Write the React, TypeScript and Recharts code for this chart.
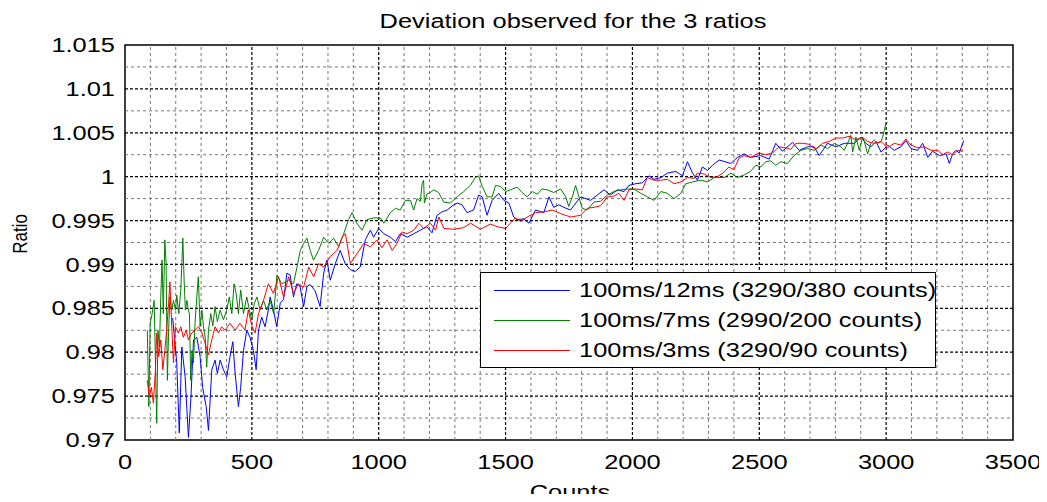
import React from "react";
import { LineChart, Line, XAxis, YAxis, ReferenceLine, ReferenceArea } from "recharts";

// counts / ratio readings for each exposure pair
const blueCounts = [188, 204, 214, 224, 237, 250, 260, 270, 283, 296, 306, 320, 329, 342, 355, 364, 375, 388, 401, 414, 425, 434, 447, 456, 467, 480, 493, 506, 517, 526, 539, 552, 565, 572, 585, 598, 612, 625, 638, 651, 664, 677, 690, 704, 717, 730, 749, 769, 783, 796, 809, 829, 848, 868, 888, 907, 927, 947, 967, 980, 1000, 1020, 1046, 1066, 1085, 1112, 1138, 1164, 1190, 1210, 1230, 1250, 1270, 1296, 1309, 1328, 1348, 1374, 1394, 1408, 1427, 1447, 1473, 1493, 1513, 1532, 1546, 1572, 1592, 1618, 1651, 1671, 1690, 1710, 1730, 1756, 1796, 1835, 1861, 1888, 1914, 1940, 1967, 1986, 2013, 2039, 2066, 2085, 2112, 2138, 2171, 2197, 2217, 2237, 2256, 2276, 2296, 2316, 2342, 2365, 2388, 2414, 2440, 2466, 2506, 2539, 2565, 2591, 2631, 2657, 2690, 2716, 2736, 2769, 2802, 2835, 2874, 2901, 2920, 2940, 2960, 2980, 3006, 3032, 3058, 3078, 3098, 3124, 3144, 3164, 3183, 3210, 3236, 3249, 3262, 3275, 3288, 3306];
const blueRatios = [0.9839, 0.9788, 0.9708, 0.9806, 0.9772, 0.9703, 0.9749, 0.9814, 0.9817, 0.9795, 0.976, 0.9738, 0.9711, 0.978, 0.9791, 0.9776, 0.9791, 0.978, 0.9772, 0.9795, 0.9812, 0.9776, 0.9738, 0.976, 0.9802, 0.9825, 0.9817, 0.9802, 0.978, 0.9825, 0.984, 0.9829, 0.9848, 0.9863, 0.9848, 0.9829, 0.9856, 0.986, 0.989, 0.9888, 0.9863, 0.9878, 0.9875, 0.9852, 0.9875, 0.9877, 0.987, 0.9852, 0.989, 0.9905, 0.9882, 0.9901, 0.9916, 0.9901, 0.9894, 0.9892, 0.9897, 0.9928, 0.9939, 0.9931, 0.9941, 0.9935, 0.9931, 0.9926, 0.9935, 0.9931, 0.9935, 0.9939, 0.9943, 0.9936, 0.9956, 0.996, 0.9962, 0.9968, 0.997, 0.9968, 0.9959, 0.9962, 0.9979, 0.9977, 0.9956, 0.9973, 0.9981, 0.9973, 0.997, 0.9954, 0.9951, 0.9952, 0.9947, 0.9962, 0.9959, 0.9977, 0.9965, 0.9968, 0.9965, 0.9962, 0.9977, 0.9973, 0.9979, 0.9985, 0.9979, 0.9985, 0.9983, 0.999, 0.9992, 0.9993, 1.0001, 0.9997, 0.9999, 1.0004, 1.0006, 1.0001, 1.0017, 1.0004, 0.9996, 1.0011, 1.0007, 1.0013, 1.0019, 1.0017, 1.0015, 1.0022, 1.0026, 1.0022, 1.0024, 1.002, 1.0038, 1.0029, 1.0039, 1.003, 1.0034, 1.0034, 1.0024, 1.0038, 1.0034, 1.0038, 1.0038, 1.0045, 1.0038, 1.0034, 1.004, 1.0028, 1.0036, 1.003, 1.0034, 1.0041, 1.0032, 1.003, 1.0038, 1.0022, 1.0029, 1.0024, 1.0026, 1.0015, 1.0026, 1.003, 1.0027, 1.0041];

const greenCounts = [88, 94, 99, 107, 115, 120, 125, 130, 136, 141, 146, 151, 157, 162, 167, 172, 177, 184, 191, 199, 204, 212, 220, 228, 233, 238, 244, 250, 254, 259, 264, 270, 276, 283, 289, 296, 303, 309, 316, 322, 329, 338, 346, 355, 364, 375, 388, 401, 411, 421, 430, 438, 447, 456, 467, 480, 490, 500, 509, 520, 533, 546, 559, 572, 586, 599, 618, 645, 664, 678, 691, 704, 717, 730, 743, 763, 783, 803, 822, 842, 862, 881, 895, 914, 934, 954, 980, 1007, 1020, 1046, 1066, 1085, 1105, 1125, 1138, 1151, 1164, 1171, 1177, 1180, 1190, 1204, 1217, 1236, 1256, 1282, 1309, 1335, 1361, 1381, 1394, 1408, 1427, 1447, 1460, 1480, 1500, 1519, 1546, 1565, 1585, 1605, 1625, 1644, 1664, 1690, 1717, 1737, 1749, 1763, 1776, 1789, 1802, 1822, 1848, 1875, 1901, 1927, 1953, 1980, 2006, 2033, 2059, 2085, 2112, 2138, 2164, 2191, 2210, 2237, 2270, 2296, 2322, 2349, 2361, 2388, 2414, 2440, 2466, 2486, 2506, 2525, 2545, 2565, 2585, 2611, 2637, 2664, 2690, 2716, 2743, 2769, 2796, 2822, 2835, 2848, 2861, 2868, 2881, 2894, 2907, 2914, 2927, 2940, 2953, 2966, 2980, 2986, 2993, 2999, 3006];
const greenRatios = [0.9825, 0.9738, 0.9833, 0.9844, 0.9859, 0.9788, 0.9719, 0.9825, 0.9806, 0.9863, 0.9905, 0.9844, 0.9928, 0.9901, 0.9768, 0.9825, 0.9863, 0.9848, 0.9859, 0.9848, 0.9865, 0.9844, 0.9871, 0.993, 0.9882, 0.9848, 0.9859, 0.9848, 0.9844, 0.9768, 0.9802, 0.9788, 0.9833, 0.9863, 0.9886, 0.9829, 0.9848, 0.983, 0.9817, 0.9783, 0.9825, 0.9844, 0.983, 0.9852, 0.9835, 0.9848, 0.9837, 0.9848, 0.9863, 0.9844, 0.9878, 0.9867, 0.9844, 0.9871, 0.9844, 0.9863, 0.9848, 0.9837, 0.9855, 0.9863, 0.9848, 0.9859, 0.9848, 0.9859, 0.9844, 0.9888, 0.9878, 0.9882, 0.9878, 0.9897, 0.9916, 0.9924, 0.993, 0.9916, 0.9905, 0.9916, 0.9931, 0.9924, 0.993, 0.992, 0.9935, 0.9951, 0.9959, 0.9947, 0.9939, 0.9951, 0.9953, 0.9953, 0.9947, 0.9959, 0.9964, 0.9962, 0.9973, 0.9973, 0.9962, 0.9975, 0.9972, 0.9992, 0.9996, 0.997, 0.998, 0.9982, 0.9985, 0.9982, 0.9971, 0.997, 0.9977, 0.9983, 0.999, 0.9999, 1.0001, 0.9989, 0.9977, 0.9977, 0.999, 0.9989, 0.9983, 0.9985, 0.9988, 0.9982, 0.9977, 0.9983, 0.998, 0.9986, 0.9985, 0.9982, 0.9986, 0.9977, 0.9966, 0.9977, 0.999, 0.9977, 0.9964, 0.9962, 0.9971, 0.9972, 0.9979, 0.9983, 0.9985, 0.9986, 0.9986, 0.9981, 0.9977, 0.9973, 0.9983, 0.9981, 0.9975, 0.9981, 0.9992, 0.9994, 0.9996, 0.9994, 0.9999, 0.9999, 0.9999, 1.0004, 0.9999, 1.0002, 1.0006, 1.0013, 1.0011, 1.0017, 1.0018, 1.0013, 1.0017, 1.0015, 1.0024, 1.003, 1.0032, 1.003, 1.0036, 1.0032, 1.0038, 1.0034, 1.003, 1.0038, 1.0047, 1.0028, 1.0045, 1.003, 1.0045, 1.004, 1.0026, 1.0038, 1.0042, 1.0038, 1.004, 1.0045, 1.0053, 1.0061, 1.0062];

const redCounts = [88, 96, 104, 112, 120, 125, 133, 141, 149, 157, 164, 172, 177, 185, 191, 199, 210, 220, 230, 241, 250, 263, 276, 290, 303, 316, 329, 342, 355, 368, 381, 394, 414, 434, 453, 473, 486, 500, 513, 526, 546, 565, 585, 605, 625, 645, 664, 684, 704, 724, 744, 763, 783, 809, 836, 856, 869, 888, 914, 941, 967, 993, 1013, 1033, 1053, 1072, 1092, 1112, 1138, 1158, 1177, 1204, 1224, 1237, 1257, 1296, 1335, 1362, 1401, 1440, 1467, 1500, 1519, 1539, 1559, 1585, 1618, 1651, 1684, 1717, 1756, 1796, 1822, 1848, 1875, 1901, 1920, 1947, 1967, 1986, 2013, 2039, 2059, 2085, 2112, 2138, 2164, 2191, 2217, 2243, 2256, 2283, 2309, 2335, 2361, 2380, 2400, 2420, 2440, 2466, 2499, 2525, 2552, 2578, 2604, 2624, 2644, 2670, 2696, 2723, 2749, 2775, 2802, 2828, 2854, 2880, 2906, 2927, 2953, 2980, 3006, 3032, 3058, 3078, 3098, 3124, 3151, 3177, 3203, 3223, 3242, 3262, 3282, 3302];
const redRatios = [0.9768, 0.9749, 0.976, 0.9742, 0.978, 0.9822, 0.9795, 0.9814, 0.978, 0.9802, 0.9825, 0.9856, 0.988, 0.9825, 0.9788, 0.9829, 0.9822, 0.9829, 0.9817, 0.9825, 0.9814, 0.9822, 0.9825, 0.9829, 0.9822, 0.981, 0.9797, 0.9814, 0.9829, 0.9822, 0.9829, 0.9825, 0.9833, 0.9825, 0.9833, 0.9825, 0.9848, 0.983, 0.9822, 0.9844, 0.9859, 0.9878, 0.9867, 0.9886, 0.9863, 0.9886, 0.9867, 0.9878, 0.9874, 0.9897, 0.9886, 0.9901, 0.9897, 0.9909, 0.9916, 0.9931, 0.9935, 0.9901, 0.9912, 0.9924, 0.992, 0.9928, 0.9919, 0.9928, 0.9916, 0.9924, 0.9937, 0.9935, 0.9939, 0.9947, 0.9941, 0.9947, 0.9939, 0.9954, 0.9941, 0.994, 0.9942, 0.9947, 0.994, 0.9946, 0.9943, 0.9941, 0.9947, 0.9953, 0.9949, 0.9954, 0.9959, 0.996, 0.9962, 0.9958, 0.9954, 0.9956, 0.9964, 0.9965, 0.9967, 0.9977, 0.9977, 0.9981, 0.9973, 0.9985, 0.9986, 0.9985, 0.9999, 0.9996, 0.9996, 0.9997, 0.9992, 0.9994, 0.9999, 0.9998, 1.0004, 1.0003, 0.9999, 1.0, 1.0005, 1.0011, 1.0008, 1.0021, 1.0024, 1.0022, 1.0027, 1.0025, 1.0027, 1.0034, 1.0033, 1.0031, 1.0038, 1.0038, 1.0037, 1.0031, 1.0038, 1.004, 1.0044, 1.0044, 1.0046, 1.0042, 1.0045, 1.004, 1.0038, 1.004, 1.0033, 1.0038, 1.0036, 1.0043, 1.0036, 1.0033, 1.0034, 1.003, 1.003, 1.0025, 1.0028, 1.0025, 1.003, 1.0029];

const xTicks = [0, 500, 1000, 1500, 2000, 2500, 3000, 3500];
const yTicks = [0.97, 0.975, 0.98, 0.985, 0.99, 0.995, 1.0, 1.005, 1.01, 1.015];
const xMinor = [100, 200, 300, 400, 600, 700, 800, 900, 1100, 1200, 1300, 1400, 1600, 1700, 1800, 1900, 2100, 2200, 2300, 2400, 2600, 2700, 2800, 2900, 3100, 3200, 3300, 3400];
const yMinor = [0.9725, 0.9775, 0.9825, 0.9875, 0.9925, 0.9975, 1.0025, 1.0075, 1.0125];

const series = [
  { name: "100ms/12ms (3290/380 counts)", color: "#0000ff", counts: blueCounts, ratios: blueRatios },
  { name: "100ms/7ms (2990/200 counts)", color: "#008000", counts: greenCounts, ratios: greenRatios },
  { name: "100ms/3ms (3290/90 counts)", color: "#ff0000", counts: redCounts, ratios: redRatios },
];

const FONT = '"Liberation Sans", Arial, sans-serif';
const STRETCH = 1.27;

function XTick({ x, y, payload }: any) {
  return (
    <text transform={`translate(${x},${y}) scale(${STRETCH},1)`} textAnchor="middle" dy="0.71em"
      fontFamily={FONT} fontSize={20} fill="#000">
      {payload.value}
    </text>
  );
}

function YTick({ x, y, payload }: any) {
  return (
    <text transform={`translate(${x},${y}) scale(${STRETCH},1)`} textAnchor="end" dy="0.355em"
      fontFamily={FONT} fontSize={20} fill="#000">
      {String(Number(payload.value.toFixed(4)))}
    </text>
  );
}

const textStyle: React.CSSProperties = {
  position: "absolute",
  fontFamily: FONT,
  fontSize: 20,
  lineHeight: "20px",
  whiteSpace: "nowrap",
  color: "#000",
};

export default function App() {
  const lines = series.map((s) => ({
    ...s,
    data: s.counts.map((c, i) => ({ count: c, ratio: s.ratios[i] })),
  }));

  return (
    <div
      style={{
        position: "relative",
        width: 1039,
        height: 494,
        marginBottom: -8,
        marginRight: -8,
        overflow: "hidden",
      }}
    >
      <LineChart width={1039} height={494} margin={{ top: 37, right: 34, bottom: 22, left: 57 }}>
        <XAxis
          type="number"
          dataKey="count"
          domain={[0, 3500]}
          ticks={xTicks}
          allowDataOverflow
          axisLine={false}
          tickLine={false}
          tickSize={0}
          tickMargin={15}
          height={40}
          tick={<XTick />}
        />
        <YAxis
          type="number"
          domain={[0.97, 1.015]}
          ticks={yTicks}
          allowDataOverflow
          axisLine={false}
          tickLine={false}
          tickSize={0}
          tickMargin={10}
          width={60}
          tick={<YTick />}
        />
        {xMinor.map((v) => (
          <ReferenceLine key={"xm" + v} x={v} stroke="#777" strokeDasharray="3 3" strokeWidth={1} />
        ))}
        {yMinor.map((v) => (
          <ReferenceLine key={"ym" + v} y={v} stroke="#777" strokeDasharray="3 3" strokeWidth={1} />
        ))}
        {xTicks.slice(1, -1).map((v) => (
          <ReferenceLine key={"x" + v} x={v} stroke="#000" strokeDasharray="3 2" strokeWidth={1.2} />
        ))}
        {yTicks.slice(1, -1).map((v) => (
          <ReferenceLine key={"y" + v} y={v} stroke="#000" strokeDasharray="3 2" strokeWidth={1.2} />
        ))}
        {lines.map((s) => (
          <Line
            key={s.name}
            data={s.data}
            dataKey="ratio"
            name={s.name}
            type="linear"
            stroke={s.color}
            strokeWidth={1}
            dot={false}
            activeDot={false}
            isAnimationActive={false}
          />
        ))}
        <ReferenceArea x1={0} x2={3500} y1={0.97} y2={1.015} fill="none" stroke="#000" strokeWidth={1.5} />
      </LineChart>

      <div style={{ ...textStyle, left: 565, top: 3, transform: `translateX(-50%) scaleX(${STRETCH})` }}>
        Deviation observed for the 3 ratios
      </div>
      <div style={{ ...textStyle, left: 562, top: 474, transform: `translateX(-50%) scaleX(${STRETCH})` }}>
        Counts
      </div>
      <div style={{ ...textStyle, left: 12, top: 216, transform: "translate(-50%, 0) rotate(-90deg) scaleX(0.85)" }}>
        Ratio
      </div>

      <div
        style={{
          position: "absolute",
          left: 472,
          top: 264,
          width: 456,
          height: 96,
          boxSizing: "border-box",
          background: "#fff",
          border: "1px solid #000",
        }}
      >
        {series.map((s, i) => (
          <div key={s.name} style={{ position: "absolute", left: 0, top: 7 + i * 30, height: 20, width: "100%" }}>
            <div style={{ position: "absolute", left: 13, top: 10, width: 76, height: 1, background: s.color }} />
            <div style={{ ...textStyle, left: 98, top: 0, transformOrigin: "0 50%", transform: `scaleX(${STRETCH})` }}>
              {s.name}
            </div>
          </div>
        ))}
      </div>
    </div>
  );
}
